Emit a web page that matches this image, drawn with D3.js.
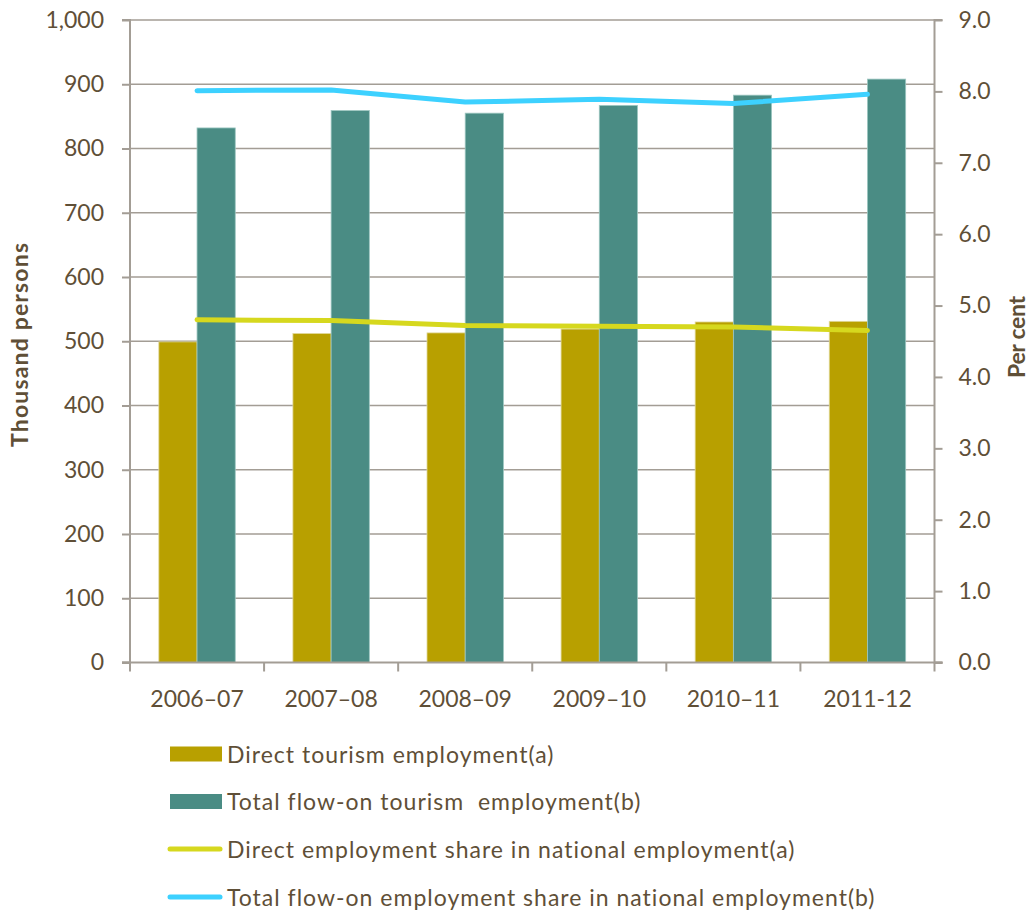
<!DOCTYPE html>
<html>
<head>
<meta charset="utf-8">
<script src="https://cdn.jsdelivr.net/npm/d3@7"></script>
<style>
  html, body { margin: 0; padding: 0; background: #fff; }
  svg { display: block; font-family: Lato, "Open Sans", sans-serif; }
</style>
</head>
<body>
<svg id="chart" width="1031" height="914"></svg>
<script>
// Financial years on the category axis
const years = ["2006\u201307", "2007\u201308", "2008\u201309", "2009\u201310", "2010\u201311", "2011-12"];
// Employment, thousand persons (left axis)
const directEmployment = [499, 512, 513, 519, 530, 531];
const flowOnEmployment = [832, 859, 855, 867, 883, 908];
// Share of national employment, per cent (right axis)
const directShare = [4.80, 4.79, 4.72, 4.71, 4.70, 4.65];
const flowOnShare = [8.01, 8.02, 7.85, 7.89, 7.83, 7.96];
// Axis ticks
const leftTicks = [0, 100, 200, 300, 400, 500, 600, 700, 800, 900, 1000];
const rightTicks = [0, 1, 2, 3, 4, 5, 6, 7, 8, 9];
// Legend entries
const legendLabels = [
  "Direct tourism employment(a)",
  "Total flow-on tourism  employment(b)",
  "Direct employment share in national employment(a)",
  "Total flow-on employment share in national employment(b)"
];

const textColor = "#5f4f37";
const axisColor = "#a39d95";
const colDirect = "#b8a000";
const colFlow = "#4a8c84";
const colDirectLine = "#d6d81e";
const colFlowLine = "#3dd1ff";

const svg = d3.select("#chart");
const plotLeft = 130, plotRight = 934.5, plotTop = 20, plotBottom = 662.5;

const x = d3.scaleBand().domain(years).range([plotLeft, plotRight]).paddingInner(0).paddingOuter(0);
const yL = d3.scaleLinear().domain([0, 1000]).range([plotBottom, plotTop]);
const yR = d3.scaleLinear().domain([0, 9]).range([plotBottom, plotTop]);

// Horizontal gridlines at left-axis ticks
svg.append("g").selectAll("line").data(leftTicks.filter(d => d > 0)).join("line")
  .attr("x1", plotLeft).attr("x2", plotRight)
  .attr("y1", d => yL(d)).attr("y2", d => yL(d))
  .attr("stroke", axisColor).attr("stroke-width", 1.5);

// Clustered bars
const barW = x.bandwidth() * 0.285;
const bars = svg.append("g");
bars.selectAll("rect.direct").data(years).join("rect").attr("class", "direct")
  .attr("x", d => x(d) + x.bandwidth() / 2 - barW)
  .attr("width", barW)
  .attr("y", (d, i) => yL(directEmployment[i]))
  .attr("height", (d, i) => yL(0) - yL(directEmployment[i]))
  .attr("fill", colDirect).attr("stroke", "#e0d89a").attr("stroke-width", 0.8);
bars.selectAll("rect.flow").data(years).join("rect").attr("class", "flow")
  .attr("x", d => x(d) + x.bandwidth() / 2)
  .attr("width", barW)
  .attr("y", (d, i) => yL(flowOnEmployment[i]))
  .attr("height", (d, i) => yL(0) - yL(flowOnEmployment[i]))
  .attr("fill", colFlow).attr("stroke", "#9cc6c0").attr("stroke-width", 0.8);

// Left axis
const axL = svg.append("g").attr("transform", `translate(${plotLeft},0)`)
  .call(d3.axisLeft(yL).tickValues(leftTicks).tickFormat(d3.format(",")).tickSize(8).tickPadding(18));
// Right axis
const axR = svg.append("g").attr("transform", `translate(${plotRight},0)`)
  .call(d3.axisRight(yR).tickValues(rightTicks).tickFormat(d3.format(".1f")).tickSize(8).tickPadding(16));
// Category axis
const xTickVals = years.map(d => x(d)).concat([plotRight]);
const axX = svg.append("g").attr("transform", `translate(0,${plotBottom})`);
axX.append("line").attr("x1", plotLeft - 8).attr("x2", plotRight + 8).attr("y1", 0).attr("y2", 0)
  .attr("stroke", axisColor).attr("stroke-width", 2);
axX.selectAll("line.tk").data(xTickVals).join("line").attr("class", "tk")
  .attr("x1", d => d).attr("x2", d => d).attr("y1", 0).attr("y2", 9)
  .attr("stroke", axisColor).attr("stroke-width", 2);
axX.selectAll("text").data(years).join("text")
  .attr("x", d => x(d) + x.bandwidth() / 2).attr("y", 44)
  .attr("text-anchor", "middle").attr("fill", textColor).attr("font-size", 23)
  .text(d => d);

[axL, axR].forEach(g => {
  g.select(".domain").attr("stroke", axisColor).attr("stroke-width", 2);
  g.selectAll(".tick line").attr("stroke", axisColor).attr("stroke-width", 2);
  g.selectAll(".tick text").attr("fill", textColor).attr("font-size", 23)
    .attr("font-family", "Lato, 'Open Sans', sans-serif");
});
axL.select(".domain").attr("d", `M-8,${plotTop}H0V${plotBottom}H-8`);
axR.select(".domain").attr("d", `M8,${plotTop}H0V${plotBottom}H8`);

// Share lines on the right-hand scale
const lineGen = vals => d3.line()
  .x((d, i) => x(years[i]) + x.bandwidth() / 2)
  .y(d => yR(d))(vals);
svg.append("path").attr("d", lineGen(directShare))
  .attr("fill", "none").attr("stroke", colDirectLine).attr("stroke-width", 5)
  .attr("stroke-linecap", "round").attr("stroke-linejoin", "round");
svg.append("path").attr("d", lineGen(flowOnShare))
  .attr("fill", "none").attr("stroke", colFlowLine).attr("stroke-width", 5)
  .attr("stroke-linecap", "round").attr("stroke-linejoin", "round");

// Axis titles
svg.append("text").attr("transform", "translate(28,345) rotate(-90)")
  .attr("text-anchor", "middle").attr("font-weight", "bold").attr("font-size", 23)
  .attr("textLength", 204).attr("lengthAdjust", "spacing")
  .attr("fill", textColor).text("Thousand persons");
svg.append("text").attr("transform", "translate(1025,337) rotate(-90)")
  .attr("text-anchor", "middle").attr("font-weight", "bold").attr("font-size", 23)
  .attr("textLength", 82).attr("lengthAdjust", "spacing")
  .attr("fill", textColor).text("Per cent");

// Legend
const legend = svg.append("g");
const rowY = [754, 801.5, 849, 897];
legendLabels.forEach((label, i) => {
  const g = legend.append("g").attr("transform", `translate(0,${rowY[i]})`);
  if (i < 2) {
    g.append("rect").attr("x", 170).attr("y", -7.5).attr("width", 52).attr("height", 15)
      .attr("fill", i === 0 ? colDirect : colFlow);
  } else {
    g.append("line").attr("x1", 170).attr("x2", 220).attr("y1", 0).attr("y2", 0)
      .attr("stroke", i === 2 ? colDirectLine : colFlowLine).attr("stroke-width", 5)
      .attr("stroke-linecap", "round");
  }
  g.append("text").attr("x", 227).attr("y", 8.5).attr("fill", textColor)
    .attr("font-size", 23).attr("letter-spacing", 1)
    .attr("xml:space", "preserve").style("white-space", "pre")
    .text(label);
});
</script>
</body>
</html>
